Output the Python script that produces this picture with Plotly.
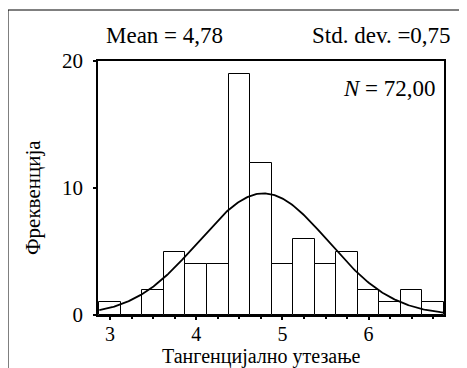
import numpy as np
import plotly.graph_objects as go

# Histogram data (bin centres, bin width 0.25)
bin_centers = [3.0, 3.25, 3.5, 3.75, 4.0, 4.25, 4.5, 4.75, 5.0, 5.25, 5.5, 5.75, 6.0, 6.25, 6.5, 6.75]
counts = [1, 0, 2, 5, 4, 4, 19, 12, 4, 6, 4, 5, 2, 1, 2, 1]
bin_width = 0.25
mean_val = 4.78
std_val = 0.75
n_val = 72

x_ticks = [3, 4, 5, 6]
y_ticks = [0, 10, 20]

FONT = "Times New Roman, Liberation Serif, DejaVu Serif, serif"

# Fitted normal curve from stated statistics
xc = np.linspace(2.875, 6.875, 300)
yc = n_val * bin_width / (std_val * np.sqrt(2 * np.pi)) * np.exp(-0.5 * ((xc - mean_val) / std_val) ** 2)

OFF = 8  # page body margin
W, H = 467 - OFF, 368 - OFF
L, R, T, B = 98 - OFF, 444 - OFF, 61 - OFF, 315 - OFF
PW, PH = R - L, B - T

def px(x):
    return (x - OFF - L) / PW

def py(y):
    return (B - (y - OFF)) / PH

fig = go.Figure()
fig.add_trace(go.Bar(
    x=bin_centers, y=counts, width=bin_width,
    marker=dict(color="white", line=dict(color="black", width=1)),
    hoverinfo="x+y", showlegend=False,
))
fig.add_trace(go.Scatter(
    x=xc, y=yc, mode="lines", line=dict(color="black", width=1.8),
    showlegend=False, hoverinfo="skip",
))

fig.update_layout(
    width=W, height=H,
    margin=dict(l=L, r=W - R, t=T, b=H - B),
    paper_bgcolor="white", plot_bgcolor="white",
    font=dict(family=FONT, color="black", size=20),
    bargap=0,
    xaxis=dict(
        range=[2.86, 6.875], tickmode="array", tickvals=x_ticks,
        ticks="outside", ticklen=3, tickwidth=2, tickcolor="black",
        minor=dict(dtick=0.25, tick0=3, ticks="outside", ticklen=2, tickwidth=2, tickcolor="black"),
        showline=True, linecolor="black", linewidth=1.5, mirror=True,
        showgrid=False, zeroline=False, automargin=False,
        tickfont=dict(size=20, family=FONT), ticklabelstandoff=-3,
    ),
    yaxis=dict(
        range=[0, 20], tickmode="array", tickvals=y_ticks,
        ticks="outside", ticklen=3, tickwidth=2, tickcolor="black",
        showline=True, linecolor="black", linewidth=1.5, mirror=True,
        showgrid=False, zeroline=False, automargin=False,
        tickfont=dict(size=21, family=FONT), ticklabelstandoff=6,
    ),
    annotations=[
        dict(text="Mean = 4,78", xref="paper", yref="paper", x=px(164), y=py(36),
             showarrow=False, font=dict(size=23, family=FONT), xanchor="center", yanchor="middle"),
        dict(text="Std. dev. =0,75", xref="paper", yref="paper", x=px(381), y=py(36),
             showarrow=False, font=dict(size=23, family=FONT), xanchor="center", yanchor="middle"),
        dict(text="<i>N</i> = 72,00", xref="paper", yref="paper", x=px(438), y=py(88),
             showarrow=False, font=dict(size=23, family=FONT), xanchor="right", yanchor="middle"),
        dict(text="Тангенцијално утезање", xref="paper", yref="paper", x=px(261), y=py(356),
             showarrow=False, font=dict(size=20, family=FONT), xanchor="center", yanchor="middle"),
        dict(text="Фреквенција", xref="paper", yref="paper", x=px(33), y=py(198), textangle=-90,
             showarrow=False, font=dict(size=21, family=FONT), xanchor="center", yanchor="middle"),
    ],
    shapes=[
        dict(type="line", xref="paper", yref="paper", x0=px(8), x1=px(467),
             y0=py(10), y1=py(10), line=dict(color="black", width=1)),
        dict(type="line", xref="paper", yref="paper", x0=px(8), x1=px(8),
             y0=py(10), y1=py(368), line=dict(color="black", width=1)),
    ],
)

fig.write_html("out.html")
